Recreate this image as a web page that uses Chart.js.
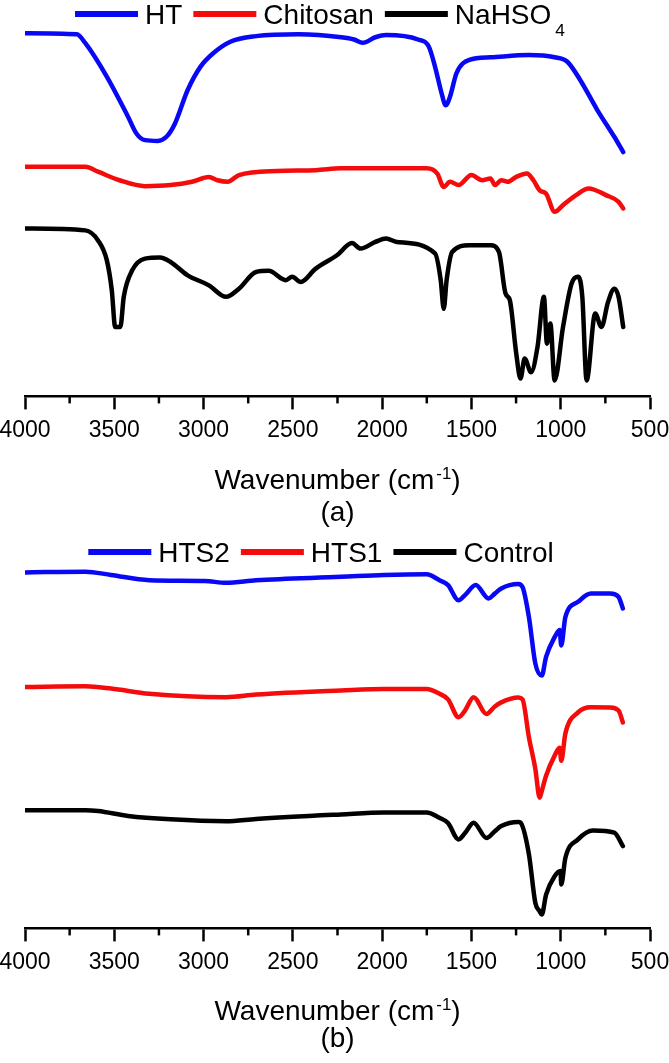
<!DOCTYPE html>
<html>
<head>
<meta charset="utf-8">
<script src="https://cdn.jsdelivr.net/npm/chart.js@4.4.1/dist/chart.umd.min.js"></script>
<style>
  body { margin: 0; background: #fff; }
  canvas { display: block; }
</style>
</head>
<body>
<canvas id="chartA" width="669" height="531"></canvas>
<canvas id="chartB" width="669" height="532"></canvas>
<script>
const FONT = "'Liberation Sans', Arial, sans-serif";

// x axis ticks (cm-1)
const waveTicks = [4000, 3500, 3000, 2500, 2000, 1500, 1000, 500];
const minorTicks = [3750, 3250, 2750, 2250, 1750, 1250, 750];

/* ---------- panel (a) ---------- */
const htWave = [4000, 3710, 3662, 3542, 3423, 3376, 3328, 3256, 3208, 3160, 3089, 3017, 2946, 2850, 2706, 2468, 2229, 2158, 2109, 2038, 1978, 1799, 1739, 1704, 1667, 1644, 1620, 1584, 1512, 1393, 1178, 1034, 963, 891, 795, 700, 650];
const htT = [97.8, 97.5, 95.1, 86.1, 75.3, 70.8, 69.0, 68.8, 69.9, 73.5, 82.5, 88.8, 92.4, 95.5, 97.0, 97.5, 96.7, 96.1, 95.2, 96.7, 97.3, 96.1, 94.2, 88.8, 81.6, 78.4, 80.7, 87.0, 90.6, 91.3, 91.9, 91.3, 90.1, 85.2, 77.1, 69.9, 65.8];

const chitosanWave = [4000, 3662, 3591, 3471, 3328, 3185, 3065, 2970, 2922, 2865, 2802, 2589, 2372, 2230, 1751, 1691, 1655, 1620, 1572, 1500, 1441, 1393, 1369, 1333, 1297, 1249, 1189, 1153, 1118, 1082, 1034, 987, 914, 843, 747, 676, 650];
const chitosanT = [61.8, 61.8, 60.5, 58.2, 56.6, 56.9, 57.8, 59.1, 58.2, 57.8, 59.6, 60.7, 60.9, 61.4, 61.4, 60.0, 56.4, 57.8, 56.9, 59.6, 58.2, 58.7, 56.9, 58.2, 57.8, 59.1, 60.0, 58.2, 55.5, 54.6, 49.7, 51.5, 54.2, 56.0, 54.2, 52.4, 50.6];

const nahso4Wave = [4000, 3662, 3591, 3542, 3514, 3495, 3466, 3447, 3399, 3328, 3244, 3185, 3089, 2970, 2874, 2802, 2706, 2635, 2540, 2504, 2456, 2372, 2253, 2169, 2121, 2038, 1978, 1918, 1704, 1672, 1655, 1639, 1608, 1512, 1393, 1346, 1309, 1285, 1249, 1225, 1202, 1166, 1130, 1094, 1077, 1058, 1034, 987, 939, 903, 879, 855, 807, 772, 735, 700, 676, 650];
const nahso4T = [45.2, 44.7, 42.0, 36.7, 28.6, 18.7, 18.7, 26.8, 34.0, 37.1, 37.4, 36.2, 32.6, 29.9, 26.8, 29.0, 33.5, 33.8, 31.3, 32.2, 30.8, 34.4, 38.0, 41.3, 39.8, 41.6, 42.5, 41.6, 38.5, 31.3, 23.6, 31.3, 38.9, 40.7, 40.7, 38.9, 27.7, 25.9, 11.5, 4.8, 10.2, 6.5, 13.3, 26.8, 14.2, 19.6, 4.3, 18.7, 30.4, 32.2, 26.8, 4.3, 22.3, 18.7, 25.4, 29.0, 26.8, 18.7];

/* ---------- panel (b) ---------- */
const hts2Wave = [4000, 3662, 3518, 3304, 2993, 2874, 2706, 2230, 1990, 1751, 1679, 1631, 1572, 1536, 1476, 1404, 1369, 1333, 1238, 1214, 1178, 1142, 1106, 1082, 1034, 1006, 997, 974, 903, 831, 724, 676, 652];
const hts2T = [95.6, 95.8, 94.9, 93.5, 93.3, 92.8, 93.5, 94.4, 94.9, 95.1, 93.5, 92.2, 88.1, 89.5, 92.2, 88.6, 89.9, 91.3, 92.5, 91.7, 83.6, 71.1, 67.9, 72.9, 78.2, 80.1, 76.0, 83.6, 87.7, 89.9, 89.9, 89.0, 85.9];

const hts1Wave = [4000, 3662, 3518, 3304, 2874, 2706, 2230, 1990, 1751, 1679, 1631, 1572, 1536, 1488, 1416, 1369, 1333, 1238, 1214, 1178, 1142, 1118, 1106, 1082, 1034, 1006, 997, 974, 903, 831, 724, 676, 652];
const hts1T = [64.8, 65.0, 64.4, 63.0, 62.1, 62.8, 63.9, 64.3, 64.3, 63.0, 61.5, 56.7, 58.5, 62.1, 57.6, 59.6, 60.7, 62.0, 61.5, 51.3, 42.8, 35.1, 36.9, 41.0, 46.4, 48.5, 45.0, 52.3, 58.0, 59.4, 59.3, 58.5, 55.3];

const controlWave = [4000, 3662, 3591, 3423, 3185, 2874, 2706, 2230, 1990, 1751, 1679, 1631, 1572, 1536, 1488, 1416, 1369, 1333, 1238, 1225, 1178, 1142, 1118, 1106, 1082, 1034, 1001, 997, 974, 903, 819, 700, 652];
const controlT = [31.7, 31.7, 31.5, 30.2, 29.3, 28.8, 29.4, 30.6, 31.1, 31.1, 29.7, 28.3, 23.9, 25.6, 28.4, 24.3, 26.1, 27.5, 28.6, 28.4, 19.9, 6.8, 4.6, 3.7, 9.1, 14.0, 15.4, 11.8, 18.9, 23.9, 26.3, 25.7, 22.1];

/* ---------- helpers ---------- */
// "_x" = subscript, "^x" = superscript
function richParts(str, size) {
  const out = [];
  str.split(/(_\w+|\^[-\w]+)/).forEach((s) => {
    if (!s) return;
    if (s[0] === "_") out.push({ t: s.slice(1), size: size * 0.62, dy: size * 0.42, gap: 4 });
    else if (s[0] === "^") out.push({ t: s.slice(1), size: size * 0.6, dy: -size * 0.34, gap: 2 });
    else out.push({ t: s, size: size, dy: 0, gap: 0 });
  });
  return out;
}

function richWidth(ctx, parts) {
  let w = 0;
  parts.forEach((p) => {
    ctx.font = p.size + "px " + FONT;
    w += p.gap + ctx.measureText(p.t).width;
  });
  return w;
}

function drawRich(ctx, parts, x, y) {
  parts.forEach((p) => {
    ctx.font = p.size + "px " + FONT;
    x += p.gap;
    ctx.fillText(p.t, x, y + p.dy);
    x += ctx.measureText(p.t).width;
  });
}

const decor = {
  id: "decor",
  afterDraw(chart, args, opts) {
    const { ctx, chartArea } = chart;
    const xs = chart.scales.x;
    ctx.save();

    // minor ticks
    ctx.strokeStyle = "#000";
    ctx.lineWidth = 2.5;
    minorTicks.forEach((v) => {
      const px = xs.getPixelForValue(v);
      ctx.beginPath();
      ctx.moveTo(px, chartArea.bottom);
      ctx.lineTo(px, chartArea.bottom + 7);
      ctx.stroke();
    });

    ctx.fillStyle = "#000";
    ctx.textBaseline = "alphabetic";
    ctx.textAlign = "left";

    // legend
    const size = 28, lineLen = 63, gapText = 7, gapItem = 11;
    const items = chart.data.datasets.map((d) => ({
      color: d.borderColor,
      parts: richParts(d.legendText || d.label, size),
    }));
    let total = 0;
    items.forEach((it, i) => {
      it.w = richWidth(ctx, it.parts);
      total += lineLen + gapText + it.w + (i ? gapItem : 0);
    });
    let x = opts.legendCenter - total / 2;
    items.forEach((it, i) => {
      if (i) x += gapItem;
      ctx.strokeStyle = it.color;
      ctx.lineWidth = 6;
      ctx.beginPath();
      ctx.moveTo(x, opts.legendY);
      ctx.lineTo(x + lineLen, opts.legendY);
      ctx.stroke();
      x += lineLen + gapText;
      ctx.fillStyle = "#000";
      drawRich(ctx, it.parts, x, opts.legendY + size * 0.36);
      x += it.w;
    });

    // axis title + caption
    const cx = (chartArea.left + chartArea.right) / 2;
    const title = richParts("Wavenumber (cm^-1)", 28);
    drawRich(ctx, title, cx - richWidth(ctx, title) / 2, opts.titleY);
    const cap = richParts(opts.caption, 28);
    drawRich(ctx, cap, cx - richWidth(ctx, cap) / 2, opts.captionY);

    ctx.restore();
  },
};

function series(label, color, waves, values, legendText) {
  return {
    label: label,
    legendText: legendText,
    data: waves.map((w, i) => ({ x: w, y: values[i] })),
    borderColor: color,
    backgroundColor: color,
    borderWidth: 4.5,
    pointRadius: 0,
    cubicInterpolationMode: "monotone",
    borderJoinStyle: "round",
    borderCapStyle: "round",
    fill: false,
  };
}

function makeChart(id, datasets, decorOpts) {
  return new Chart(document.getElementById(id), {
    type: "line",
    data: { datasets: datasets },
    plugins: [decor],
    options: {
      responsive: false,
      animation: false,
      layout: { padding: { top: 25, left: 25, right: 19, bottom: 80 } },
      plugins: {
        legend: { display: false },
        tooltip: { enabled: false },
        decor: decorOpts,
      },
      scales: {
        x: {
          type: "linear",
          reverse: true,
          min: 500,
          max: 4000,
          offset: false,
          afterBuildTicks: (s) => {
            s.ticks = waveTicks.map((v) => ({ value: v }));
          },
          // edge labels may hang past the plot, like the original
          afterFit: (s) => {
            s.paddingLeft = 0;
            s.paddingRight = 0;
          },
          ticks: {
            font: { family: FONT, size: 23 },
            color: "#000",
            padding: 7,
            maxRotation: 0,
            autoSkip: false,
            callback: (v) => String(v),
          },
          grid: {
            display: true,
            drawOnChartArea: false,
            drawTicks: true,
            tickLength: 13,
            tickWidth: 2.5,
            tickColor: "#000",
          },
          border: { display: true, color: "#000", width: 2.5 },
        },
        y: { display: false, min: 0, max: 100 },
      },
    },
  });
}

makeChart(
  "chartA",
  [
    series("HT", "#0808f4", htWave, htT),
    series("Chitosan", "#f40c0c", chitosanWave, chitosanT),
    series("NaHSO4", "#000000", nahso4Wave, nahso4T, "NaHSO_4"),
  ],
  { legendY: 14, legendCenter: 320, titleY: 489, caption: "(a)", captionY: 521 }
);

makeChart(
  "chartB",
  [
    series("HTS2", "#0808f4", hts2Wave, hts2T),
    series("HTS1", "#f40c0c", hts1Wave, hts1T),
    series("Control", "#000000", controlWave, controlT),
  ],
  { legendY: 21, legendCenter: 321, titleY: 489, caption: "(b)", captionY: 516 }
);
</script>
</body>
</html>
